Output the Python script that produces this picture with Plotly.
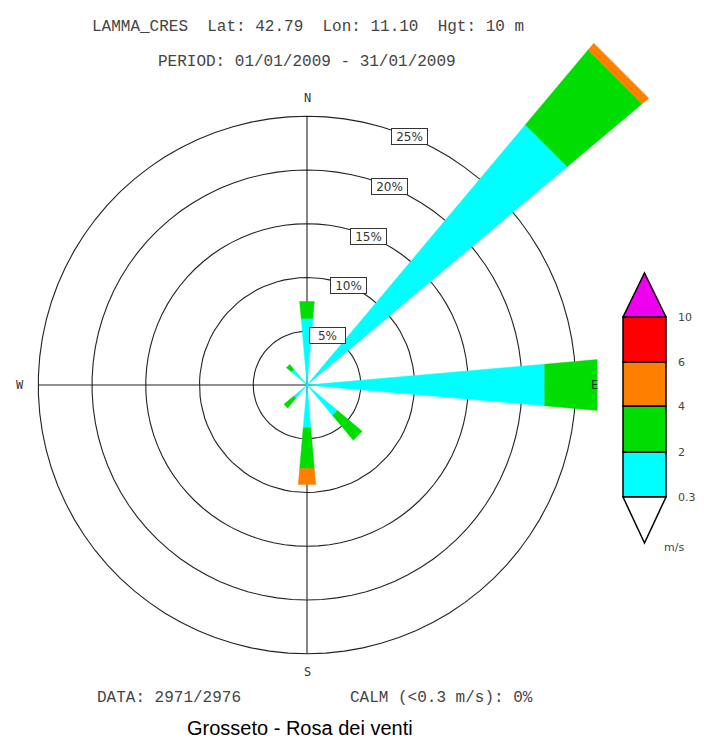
import numpy as np
import plotly.graph_objects as go

# ---------------- data ----------------
directions = ["N", "NE", "E", "SE", "S", "SW", "W", "NW"]
dir_angles = [0, 45, 90, 135, 180, 225, 270, 315]
speed_edges = ["0.3", "2", "4", "6", "10"]
class_names = ["0.3-2 m/s", "2-4 m/s", "4-6 m/s", "6-10 m/s", ">10 m/s"]
class_colors = ["#00FFFF", "#00DD00", "#FF8000", "#FF0000", "#EE00EE"]
freq_03_2 = [6.2, 31.6, 22.2, 3.7, 4.0, 1.6, 0.0, 1.9]
freq_2_4 = [1.6, 9.1, 4.9, 3.0, 3.8, 1.2, 0.0, 0.6]
freq_4_6 = [0.0, 0.8, 0.0, 0.0, 1.5, 0.0, 0.0, 0.0]
freq_6_10 = [0.0, 0.0, 0.0, 0.0, 0.0, 0.0, 0.0, 0.0]
freq_gt10 = [0.0, 0.0, 0.0, 0.0, 0.0, 0.0, 0.0, 0.0]
ring_levels = [5, 10, 15, 20, 25]
ring_labels = ["5%", "10%", "15%", "20%", "25%"]
compass = ["N", "E", "S", "W"]
compass_angles = [0, 90, 180, 270]

title1 = "LAMMA_CRES  Lat: 42.79  Lon: 11.10  Hgt: 10 m"
title2 = "PERIOD: 01/01/2009 - 31/01/2009"
data_txt = "DATA: 2971/2976"
calm_txt = "CALM (<0.3 m/s): 0%"
caption = "Grosseto - Rosa dei venti"
unit_txt = "m/s"

# ---------------- layout geometry ----------------
OFF = 8                    # page body margin of the html page
W, H = 704 - OFF, 745 - OFF
CX, CY = 307 - OFF, 385 - OFF   # centre of the rose inside the figure
S = 10.75                  # pixels per percent
SECTOR = 10.0              # angular width of each wedge (deg)
FONT = "Liberation Mono"
GREY = "#444444"


def pol(r, deg):
    t = np.radians(deg)
    return r * np.sin(t), r * np.cos(t)


def paper(px, py):
    # px, py given in page pixels
    return (px - OFF) / W, 1 - (py - OFF) / H


fig = go.Figure()

# rings
xs, ys = [], []
tt = np.linspace(0, 360, 91)
for r in ring_levels:
    x, y = pol(r, tt)
    xs += list(x) + [None]
    ys += list(y) + [None]
fig.add_trace(go.Scatter(x=xs, y=ys, mode="lines", line=dict(color="#222222", width=1.1),
                         hoverinfo="skip", showlegend=False))
# cross axes
R = ring_levels[-1]
fig.add_trace(go.Scatter(x=[0, 0, None, -R, R], y=[-R, R, None, 0, 0], mode="lines",
                         line=dict(color="#222222", width=1.1), hoverinfo="skip", showlegend=False))

# wedges (stacked by speed class)
classes = [freq_03_2, freq_2_4, freq_4_6, freq_6_10, freq_gt10]
base = np.zeros(len(directions))
for ci, vals in enumerate(classes):
    vals = np.array(vals, dtype=float)
    xs, ys = [], []
    for d, ang in enumerate(dir_angles):
        if vals[d] <= 0:
            continue
        r0, r1 = base[d], base[d] + vals[d]
        pts = [pol(r0, ang - SECTOR / 2), pol(r1, ang - SECTOR / 2),
               pol(r1, ang + SECTOR / 2), pol(r0, ang + SECTOR / 2), pol(r0, ang - SECTOR / 2)]
        xs += [p[0] for p in pts] + [None]
        ys += [p[1] for p in pts] + [None]
    base += vals
    if xs:
        fig.add_trace(go.Scatter(x=xs, y=ys, mode="lines", fill="toself",
                                 fillcolor=class_colors[ci], line=dict(width=0.5, color=class_colors[ci]),
                                 name=class_names[ci], hoverinfo="skip", showlegend=False))

annotations = []
# ring labels
for r, lab in zip(ring_levels, ring_labels):
    x, y = pol(r, 22.5)
    annotations.append(dict(x=x, y=y, xref="x", yref="y", text=lab, showarrow=False,
                            font=dict(family="DejaVu Sans", size=12, color="#333333"),
                            width=33, height=13,
                            bgcolor="white", bordercolor="#333333", borderwidth=1, borderpad=1))
# compass
for lab, ang in zip(compass, compass_angles):
    x, y = pol(26.7, ang)
    annotations.append(dict(x=x, y=y, xref="x", yref="y", text=lab, showarrow=False,
                            font=dict(family="DejaVu Sans Mono", size=12, color="#333333")))


def txt(px, py, s, size=16, color=GREY, family=FONT, xanchor="center"):
    x, y = paper(px, py)
    annotations.append(dict(x=x, y=y, xref="paper", yref="paper", text=s, showarrow=False,
                            xanchor=xanchor, yanchor="middle",
                            font=dict(family=family, size=size, color=color)))


txt(308, 27, title1)
txt(307, 62, title2)
txt(95, 698, data_txt, xanchor="left")
txt(348, 698, calm_txt, xanchor="left")
txt(300, 728, caption, size=20, color="black", family="Liberation Sans")

# colour bar
shapes = []
bx0, bx1 = 623, 666
levels_px = [497, 452, 406, 362, 317]   # 0.3, 2, 4, 6, 10 m/s
for i in range(4):
    x0, y0 = paper(bx0, levels_px[i])
    x1, y1 = paper(bx1, levels_px[i + 1])
    shapes.append(dict(type="rect", xref="paper", yref="paper", x0=x0, x1=x1, y0=y0, y1=y1,
                       fillcolor=class_colors[i], line=dict(color="black", width=1.5)))
ax, ay = paper((bx0 + bx1) / 2, 273)
lx, ly = paper(bx0, 317)
rx, ry = paper(bx1, 317)
shapes.append(dict(type="path", xref="paper", yref="paper",
                   path=f"M{lx},{ly} L{ax},{ay} L{rx},{ry} Z",
                   fillcolor=class_colors[4], line=dict(color="black", width=1.5)))
ax, ay = paper((bx0 + bx1) / 2, 543)
lx, ly = paper(bx0, 497)
rx, ry = paper(bx1, 497)
shapes.append(dict(type="path", xref="paper", yref="paper",
                   path=f"M{lx},{ly} L{ax},{ay} L{rx},{ry} Z",
                   fillcolor="white", line=dict(color="black", width=1.5)))
for lab, py in zip(speed_edges, levels_px):
    txt(676, py, lab, size=11, family="DejaVu Sans", xanchor="left")
txt(662, 547, unit_txt, size=11, family="DejaVu Sans", xanchor="left")

fig.update_layout(
    width=W, height=H, margin=dict(l=0, r=0, t=0, b=0),
    paper_bgcolor="white", plot_bgcolor="white",
    xaxis=dict(range=[-CX / S, (W - CX) / S], visible=False, fixedrange=True),
    yaxis=dict(range=[-(H - CY) / S, CY / S], visible=False, fixedrange=True),
    annotations=annotations, shapes=shapes, showlegend=False,
)
fig.write_html("out.html")
